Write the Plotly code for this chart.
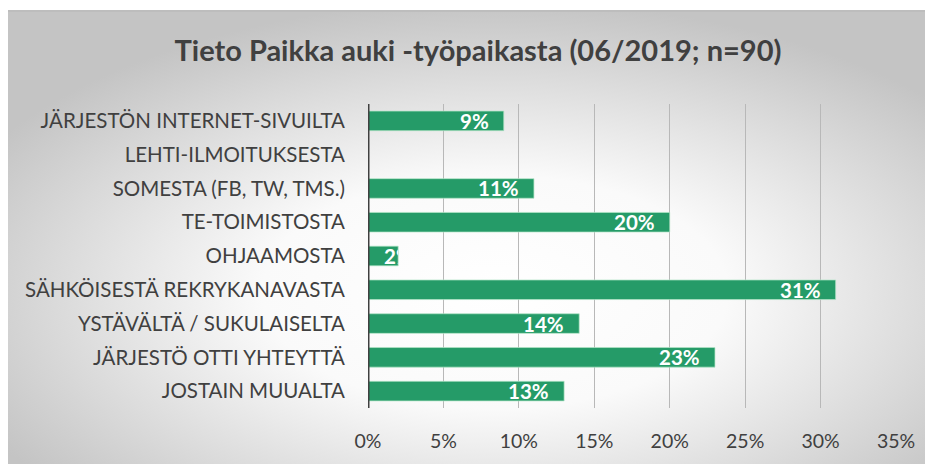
import base64
import plotly.graph_objects as go

categories = [
    "JÄRJESTÖN INTERNET-SIVUILTA",
    "LEHTI-ILMOITUKSESTA",
    "SOMESTA (FB, TW, TMS.)",
    "TE-TOIMISTOSTA",
    "OHJAAMOSTA",
    "SÄHKÖISESTÄ REKRYKANAVASTA",
    "YSTÄVÄLTÄ / SUKULAISELTA",
    "JÄRJESTÖ OTTI YHTEYTTÄ",
    "JOSTAIN MUUALTA",
]
values = [9, 0, 11, 20, 2, 31, 14, 23, 13]
tick_vals = [0, 5, 10, 15, 20, 25, 30, 35]
tick_text = ["0%", "5%", "10%", "15%", "20%", "25%", "30%", "35%"]
title_text = "Tieto Paikka auki -työpaikasta (06/2019; n=90)"

W, H = 933, 464
OFF = 8  # page body margin offset
# target screen positions of the plot area
PX0, PX1, PY0, PY1 = 368, 896, 104, 408
ML, MT = PX0 - OFF, PY0 - OFF
MR, MB = W - (PX1 - OFF), H - (PY1 - OFF)
PW, PH = PX1 - PX0, PY1 - PY0
FONT = "Lato"
GREEN = "#259b68"
DARK = "#404040"

svg = '''<svg xmlns="http://www.w3.org/2000/svg" width="940" height="470" viewBox="0 0 940 470" preserveAspectRatio="none">
<defs><radialGradient id="g" cx="52%" cy="60%" r="62%">
<stop offset="0" stop-color="#ffffff"/><stop offset="0.4" stop-color="#fafafa"/><stop offset="1" stop-color="#c4c4c4"/>
</radialGradient></defs>
<rect x="0" y="0" width="940" height="470" fill="url(#g)"/>
<rect x="1" y="1" width="960" height="490" fill="none" stroke="#bdbdbd" stroke-width="2"/>
</svg>'''
src = "data:image/svg+xml;base64," + base64.b64encode(svg.encode()).decode()

# chart box (screen coords)
box_x0, box_y0, box_w, box_h = 6, 10, 940, 470

fig = go.Figure()
fig.add_trace(go.Bar(
    y=categories, x=values, orientation="h",
    marker=dict(color=GREEN, line=dict(color="rgba(180,230,200,0.7)", width=1)),
    width=0.58, hoverinfo="skip", showlegend=False,
))

ppu = PW / tick_vals[-1]
annotations = []
for c, v in zip(categories, values):
    if v <= 0:
        continue
    label = f"{v}%"
    bar_px = v * ppu
    if bar_px > 50:
        annotations.append(dict(x=v, y=c, xref="x", yref="y", text=f"<b>{label}</b>",
                                showarrow=False, xanchor="right", xshift=-13,
                                font=dict(family=FONT, size=20.5, color="white")))
    else:
        annotations.append(dict(x=0, y=c, xref="x", yref="y", text=f"<b>{label}</b>",
                                showarrow=False, xanchor="left", xshift=14,
                                width=max(bar_px - 16, 4), align="left",
                                font=dict(family=FONT, size=20.5, color="white")))

fig.update_layout(
    width=W, height=H,
    margin=dict(l=ML, r=MR, t=MT, b=MB, pad=0),
    paper_bgcolor="white", plot_bgcolor="rgba(0,0,0,0)",
    title=dict(text=f"<b>{title_text}</b>", x=(478 - OFF) / W, xanchor="center",
               y=1 - (51 - OFF) / H, yanchor="middle",
               font=dict(family=FONT, size=29, color=DARK)),
    xaxis=dict(range=[0, tick_vals[-1]], tickvals=tick_vals, ticktext=tick_text,
               showgrid=True, gridcolor="#b8b8b8", gridwidth=1,
               zeroline=False, showline=False, ticks="", ticklabelstandoff=19,
               tickfont=dict(family=FONT, size=19.5, color=DARK), fixedrange=True),
    yaxis=dict(categoryorder="array", categoryarray=categories, autorange="reversed",
               showgrid=False, zeroline=False, showline=False, ticks="",
               ticklabelstandoff=22,
               tickfont=dict(family=FONT, size=20.5, color=DARK), fixedrange=True),
    bargap=0.42,
    annotations=annotations,
    shapes=[dict(type="line", xref="x", yref="paper", x0=0, x1=0, y0=0, y1=1,
                 line=dict(color="#404040", width=3))],
    images=[dict(source=src, xref="paper", yref="paper",
                 x=(box_x0 - PX0) / PW, y=(PY1 - box_y0) / PH,
                 sizex=box_w / PW, sizey=box_h / PH,
                 xanchor="left", yanchor="top", sizing="stretch", layer="below")],
)

fig.write_html("out.html", config={"displayModeBar": False})
